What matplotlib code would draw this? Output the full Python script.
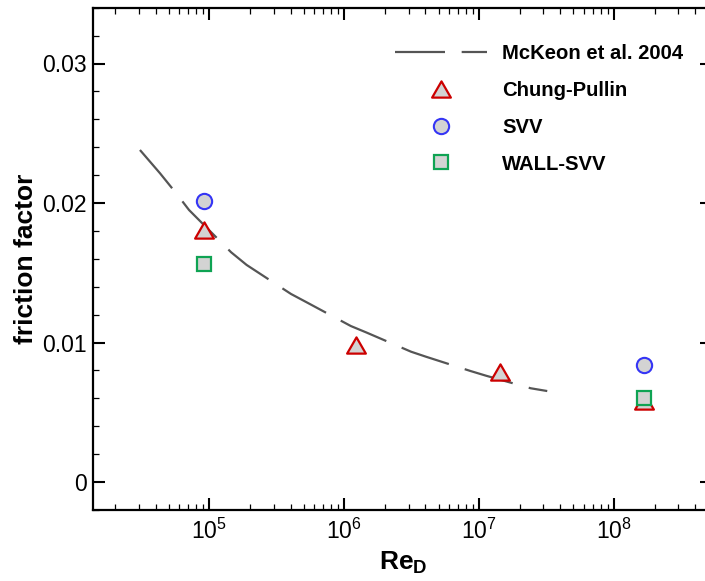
import matplotlib
matplotlib.use("Agg")
import matplotlib.pyplot as plt
from matplotlib.path import Path
from matplotlib.ticker import LogLocator, MultipleLocator, NullFormatter

plt.rcParams['font.family'] = ['Liberation Sans', 'DejaVu Sans']
plt.rcParams['mathtext.fontset'] = 'custom'
plt.rcParams['mathtext.rm'] = 'Liberation Sans'
plt.rcParams['mathtext.bf'] = 'Liberation Sans:bold'
plt.rcParams['lines.scale_dashes'] = False

# McKeon et al. (2004) correlation curve
mckeon_re = [3.06e4, 4.31e4, 5.73e4, 7.07e4, 1.45e5, 1.89e5, 4.03e5, 5.27e5,
             1.12e6, 1.45e6, 3.13e6, 4.04e6, 8.61e6, 1.125e7, 2.41e7, 3.20e7]
mckeon_f = [0.0238, 0.02213, 0.02065, 0.01950, 0.01647, 0.01556, 0.01348, 0.01288,
            0.01118, 0.01073, 0.00934, 0.00898, 0.00796, 0.00762, 0.00672, 0.00652]

# LES results
chung_re = [9.1e4, 1.23e6, 1.44e7, 1.66e8]
chung_f = [0.01809, 0.00982, 0.00785, 0.00582]

svv_re = [9.1e4, 1.66e8]
svv_f = [0.02014, 0.00839]

wall_re = [9.1e4, 1.66e8]
wall_f = [0.01563, 0.00602]

W, H = 705, 581
fig = plt.figure(figsize=(W / 100, H / 100), dpi=100)
left, right, top, bottom = 93.3, 711.7, 7.7, 509.9
ax = fig.add_axes([left / W, (H - bottom) / H, (right - left) / W, (bottom - top) / H])

line_col = '#555555'
fill_col = '#D3D3D3'

tri = Path([(0, 0.866), (-1, -0.866), (1, -0.866), (0, 0.866)],
           [Path.MOVETO, Path.LINETO, Path.LINETO, Path.CLOSEPOLY])

ax.plot(mckeon_re, mckeon_f, color=line_col, lw=1.6, dashes=(36, 12),
        label='McKeon et al. 2004')
ax.plot(chung_re, chung_f, ls='none', marker=tri, ms=13.5, mfc=fill_col,
        mec='#CC0000', mew=1.6, label='Chung-Pullin')
ax.plot(svv_re, svv_f, ls='none', marker='o', ms=11, mfc=fill_col,
        mec='#3535F5', mew=1.5, label='SVV')
ax.plot(wall_re, wall_f, ls='none', marker='s', ms=9.6, mfc=fill_col,
        mec='#0FA353', mew=1.6, label='WALL-SVV')

ax.set_xscale('log')
ax.set_xlim(1.38e4, 5.3e8)
ax.set_ylim(-0.002, 0.034)
ax.xaxis.set_major_locator(LogLocator(base=10, numticks=20))
ax.xaxis.set_minor_locator(LogLocator(base=10, subs=range(2, 10), numticks=20))
ax.xaxis.set_minor_formatter(NullFormatter())
ax.yaxis.set_major_locator(MultipleLocator(0.01))
ax.yaxis.set_minor_locator(MultipleLocator(0.002))
ax.yaxis.set_major_formatter(plt.FuncFormatter(lambda v, p: '0' if abs(v) < 1e-9 else f'{v:.2f}'))

for s in ax.spines.values():
    s.set_linewidth(1.6)
ax.tick_params(which='both', direction='in', top=True, right=True)
ax.tick_params(which='major', length=8.3, width=1.5, labelsize=16.5, pad=4.5)
ax.tick_params(which='minor', length=4.5, width=0.9)
ax.tick_params(axis='x', pad=6)

ax.set_ylabel('friction factor', fontsize=19, fontweight='bold')
ax.yaxis.set_label_coords((38 - left) / (right - left), 0.5)
ax.set_xlabel(r'$\mathbf{Re}_\mathbf{D}$', fontsize=19)
ax.xaxis.set_label_coords((403 - left) / (right - left), -(550 - bottom) / (bottom - top))

leg = ax.legend(loc='upper left', bbox_to_anchor=(395 / W, 1 - 44 / H),
                bbox_transform=fig.transFigure, frameon=False, borderpad=0,
                borderaxespad=0, handlelength=4.53, handletextpad=0.77,
                labelspacing=0.88, numpoints=1,
                prop={'family': 'Liberation Sans', 'weight': 'bold', 'size': 14.6})

fig.savefig('out.png', dpi=100)
